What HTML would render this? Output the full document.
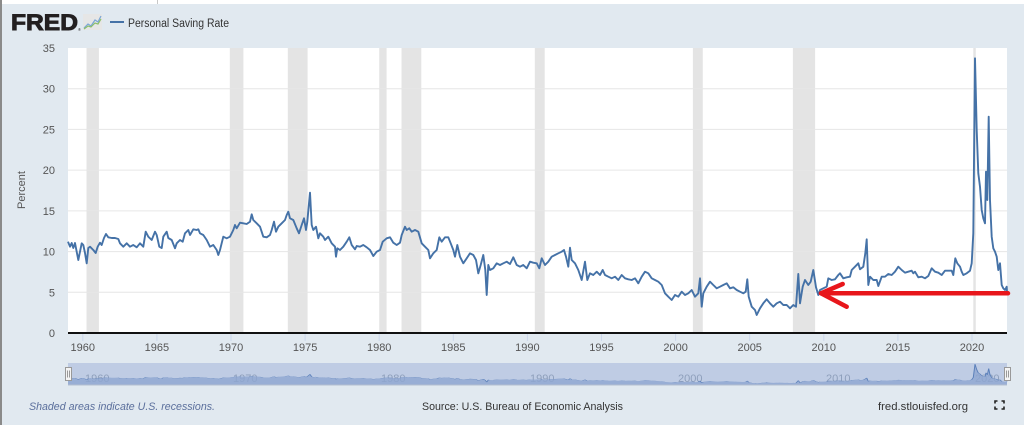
<!DOCTYPE html>
<html>
<head>
<meta charset="utf-8">
<style>
  html,body{margin:0;padding:0;background:#e1e9f0;}
  svg{display:block;}
  text{font-family:"Liberation Sans",sans-serif;}
</style>
</head>
<body>
<svg width="1024" height="425" viewBox="0 0 1024 425" xmlns="http://www.w3.org/2000/svg">
  <defs>
    <polyline id="series" points="68,241.7 70,246.7 71.7,243 73.3,248 75,243 78.3,260 80,251.7 81.7,243.3 83.3,245 85,253 86.7,263.3 88.3,248 90,246.7 93.3,250 95.7,253 97.7,246.7 100,242.7 101.7,245 104,238 106,234 108.3,237.3 111.7,238 115,238 118.3,239 120,243.3 123.3,246.7 126.7,243.3 130,246.7 133.3,245 136.7,247.3 140,243.3 143.3,246.7 145.7,231.7 148.3,236.7 151.7,240 155,231.7 156.7,235 159.3,246.7 161.7,248 163.3,236.7 166.7,231.7 168.3,238 171.7,240 175,248.3 176.7,243.3 180,240 182.7,241.7 185,233.3 188.3,230 190,235 193.3,229.3 196.7,230 198.3,229.3 200,233.3 203.3,235 206.7,240 210,246.7 213.3,245 216.7,250 218.3,255 220,250 223.3,236.7 226.7,238.3 230,236.7 233.3,230 235,225 236.7,228.3 240,222.7 243.3,223.3 246.7,224 250,221.7 251.7,214.3 253.3,220 256.7,223.3 260,226.7 263.3,236.7 266.7,237.3 270,235 271.7,230 274,221.7 276,231.7 278.3,226.7 281.7,223.3 285,220 286.7,215 288.3,211.7 290,218.3 293.3,220 296.7,228.3 299,233.3 301.7,225 304,218.3 306,230 307.3,221.7 310,192.7 311.7,225 313.3,230 316,226.7 318.3,238.3 320,233.3 323.3,236.7 325,240 328.3,236.7 331.7,243.3 335,246.7 336,256.7 337.3,248.3 340,250 343.3,246.7 346.7,241.7 349.3,237.3 351.7,245 355,249.3 356.7,246 360,246.7 363.3,245 366.7,247.3 370,250 373.3,256 376.7,251.7 380,250 382.7,241.7 386.7,238.3 390,237.3 393.3,242.7 396.7,245 400,242.7 401.7,235 405,226.7 406.7,230 409.3,228.3 411.7,231.7 415,230 418.3,231.7 421.7,243.3 425,246.7 428.3,250 430,258.3 433.3,253.3 436.7,250 439.3,237.3 441.7,241.7 445,237.3 448.3,237.3 450.7,243.3 453.3,250 455,256.7 457.3,245 460,256.7 463.3,263.3 466.7,258.3 470,253.3 473.3,255 476,260 478.3,273.3 480.7,265 483.3,255 485.3,270 486.7,295 488.3,265 490,270 493.3,268.3 496.7,263.3 500,265 503.3,263.3 506.7,261.7 510,264 513.3,257.3 516.7,265 520,266.7 523.3,265 526.7,268.3 530,261.7 533.3,262.7 536.7,263.3 539.3,268.3 541.7,258.3 545,265 548.3,261.7 551.7,256.7 555,255 558.3,253.3 561.7,251.7 564,250 566,256.7 568.3,266.7 570,247.7 571.7,260 575,263.3 578.3,270 581.7,280 585,261.7 587.3,280 590,273.3 593.3,275 596.7,271.7 600,275 602.7,270 605,275 608.3,276.7 611.7,278.3 615,276.7 618.3,280 621.7,275 625,278.3 628.3,279.3 631.7,280 635,278.3 638.3,283.3 641.7,276.7 645,271.7 648.3,273.3 651.7,278.3 655,280 658.3,281.7 661.7,285 665,293.3 668.3,296.7 671.7,300 675,295 678.3,296.7 681.7,291.7 685,295 688.3,293.3 691.7,290 695,296.7 698.3,293.3 700,278.3 701.7,306.7 703.3,293.3 706.7,286.7 710,281.7 713.3,285 716.7,288.3 720,286.7 723.3,285 726.7,283.3 730,288.3 733.3,287.3 736.7,290 740,291.7 743.3,293.3 745.7,291.7 747.3,279.3 748.7,296.7 751.7,306.7 755,310 756.7,315 760,308.3 763.3,303.3 766.7,299.3 770,303.3 773.3,306.7 776.7,303.3 780,301.7 783.3,305 786.7,305 790,308.3 793.3,305 796,306.7 798.3,274 800,303.3 802.7,286.7 805,280 808.3,285 810.7,281.7 813.3,270 816,287.3 818.3,295 820,290 823.3,288.3 826.7,286.7 828.3,278.3 831.7,280 835,279.3 838.3,275 840,273.3 843.3,278.3 846.7,277.3 850,276.7 851.7,270 855,266.7 858.3,263.3 860,269.3 863.3,266.7 865.3,253.3 866.7,239.3 868.3,285 870,276.7 873.3,280 876.7,280 878.3,286 881.7,276.7 885,276.7 888.3,274 891.7,275 895,271.7 898.3,266.7 901.7,270 905,272.7 908.3,271.7 911.7,270.7 913.3,273.3 915,271.7 918.3,277.3 921.7,276.7 925,278.3 928.3,276 931.7,268.3 935,271.7 938.3,272.7 941.7,275 945,270.7 948.3,270.7 951.7,270.7 953.3,275 955.3,258.3 957.3,263.3 960,266.7 961.7,271.7 963.3,275 966.7,273.3 970,270.7 971.7,263.3 973.3,233.3 975,58.3 976.7,130 978.3,173.3 980,186.7 981.7,210 983.3,218.3 985,223.3 986,171.7 987.3,200 988.7,116.7 990,200 991.7,236.7 993.3,248.3 995,251.7 996.7,256.7 998.3,270 1000,263.3 1001.7,285 1003.3,288.3 1005,290 1006.7,286.7 1007,291.7"/>
  </defs>

  <!-- background -->
  <rect x="0" y="0" width="1024" height="425" fill="#e1e9f0"/>
  <rect x="0" y="0" width="1024" height="4" fill="#ffffff"/>
  <rect x="157" y="0" width="1" height="4" fill="#c8c8c8"/>
  <rect x="0" y="0" width="2" height="425" fill="#8a8a8a"/>

  <!-- header -->
  <text x="11" y="30" font-size="22" font-weight="bold" fill="#231f20" stroke="#231f20" stroke-width="0.9" textLength="67" lengthAdjust="spacingAndGlyphs">FRED</text>
  <text x="78" y="31" font-size="4" fill="#231f20">®</text>
  <rect x="83" y="14" width="19" height="16" fill="#e6e6e6"/>
  <polyline points="84,28 88,24 91,26 95,20 98,22 101,16" fill="none" stroke="#7aa6d6" stroke-width="1.2"/>
  <polyline points="84,29 88,26 91,27 95,23 98,24 101,19" fill="none" stroke="#8bbf6a" stroke-width="1.2"/>
  <rect x="110" y="21" width="14" height="2" fill="#4572a7"/>
  <text x="128" y="27" font-size="11.5" fill="#333" textLength="101" lengthAdjust="spacingAndGlyphs">Personal Saving Rate</text>

  <!-- plot area -->
  <rect x="68" y="48" width="939" height="285" fill="#ffffff"/>

  <!-- recessions -->
  <g fill="#e4e4e4">
    <rect x="86.5" y="48" width="12.4" height="285"/>
    <rect x="229.8" y="48" width="13.6" height="285"/>
    <rect x="287.8" y="48" width="19.8" height="285"/>
    <rect x="379.2" y="48" width="7.4" height="285"/>
    <rect x="401.5" y="48" width="19.8" height="285"/>
    <rect x="534.8" y="48" width="9.9" height="285"/>
    <rect x="692.9" y="48" width="9.9" height="285"/>
    <rect x="792.9" y="48" width="22.2" height="285"/>
    <rect x="973.3" y="48" width="2.5" height="285"/>
  </g>

  <!-- grid -->
  <g stroke="#e6e6e6" stroke-width="1">
    <line x1="68" y1="292.3" x2="1007" y2="292.3"/>
    <line x1="68" y1="251.6" x2="1007" y2="251.6"/>
    <line x1="68" y1="210.9" x2="1007" y2="210.9"/>
    <line x1="68" y1="170.1" x2="1007" y2="170.1"/>
    <line x1="68" y1="129.4" x2="1007" y2="129.4"/>
    <line x1="68" y1="88.7" x2="1007" y2="88.7"/>
  </g>

  <!-- y labels -->
  <g font-size="11" fill="#555" text-anchor="end">
    <text x="55" y="52">35</text>
    <text x="55" y="92.7">30</text>
    <text x="55" y="133.4">25</text>
    <text x="55" y="174.1">20</text>
    <text x="55" y="214.9">15</text>
    <text x="55" y="255.6">10</text>
    <text x="55" y="296.3">5</text>
    <text x="55" y="337">0</text>
  </g>
  <text x="0" y="0" font-size="11" fill="#555" text-anchor="middle" transform="translate(25,190) rotate(-90)">Percent</text>

  <!-- series -->
  <use href="#series" fill="none" stroke="#4572a7" stroke-width="1.9" stroke-linejoin="round"/>

  <!-- x axis -->
  <rect x="68" y="332" width="939" height="2" fill="#111"/>
  <g stroke="#ccd6eb" stroke-width="1">
    <line x1="82.8" y1="334" x2="82.8" y2="341"/>
    <line x1="156.9" y1="334" x2="156.9" y2="341"/>
    <line x1="231" y1="334" x2="231" y2="341"/>
    <line x1="305.1" y1="334" x2="305.1" y2="341"/>
    <line x1="379.2" y1="334" x2="379.2" y2="341"/>
    <line x1="453.3" y1="334" x2="453.3" y2="341"/>
    <line x1="527.4" y1="334" x2="527.4" y2="341"/>
    <line x1="601.5" y1="334" x2="601.5" y2="341"/>
    <line x1="675.6" y1="334" x2="675.6" y2="341"/>
    <line x1="749.7" y1="334" x2="749.7" y2="341"/>
    <line x1="823.8" y1="334" x2="823.8" y2="341"/>
    <line x1="897.9" y1="334" x2="897.9" y2="341"/>
    <line x1="972" y1="334" x2="972" y2="341"/>
  </g>
  <g font-size="11" fill="#555" text-anchor="middle">
    <text x="82.8" y="351">1960</text>
    <text x="156.9" y="351">1965</text>
    <text x="231" y="351">1970</text>
    <text x="305.1" y="351">1975</text>
    <text x="379.2" y="351">1980</text>
    <text x="453.3" y="351">1985</text>
    <text x="527.4" y="351">1990</text>
    <text x="601.5" y="351">1995</text>
    <text x="675.6" y="351">2000</text>
    <text x="749.7" y="351">2005</text>
    <text x="823.8" y="351">2010</text>
    <text x="897.9" y="351">2015</text>
    <text x="972" y="351">2020</text>
  </g>

  <!-- red arrow -->
  <g stroke="#e8161b" stroke-width="4.5" stroke-linecap="round" fill="none">
    <line x1="822" y1="293.3" x2="1008" y2="293.3"/>
    <line x1="821" y1="293.3" x2="842.7" y2="284"/>
    <line x1="821" y1="293.3" x2="846.7" y2="306.7"/>
  </g>

  <!-- navigator -->
  <rect x="68" y="363" width="939" height="22" fill="#bfcce4"/>
  <g font-size="11" fill="#8e9fbb">
    <text x="85" y="382">1960</text>
    <text x="233" y="382">1970</text>
    <text x="381" y="382">1980</text>
    <text x="530" y="382">1990</text>
    <text x="678" y="382">2000</text>
    <text x="826" y="382">2010</text>
    <text x="975" y="382">2020</text>
  </g>
  <g transform="translate(0,359.63) scale(1,0.0762)">
    <polygon fill="#8ea6d1" fill-opacity="0.8" stroke="none" points="68,333 68,241.7 70,246.7 71.7,243 73.3,248 75,243 78.3,260 80,251.7 81.7,243.3 83.3,245 85,253 86.7,263.3 88.3,248 90,246.7 93.3,250 95.7,253 97.7,246.7 100,242.7 101.7,245 104,238 106,234 108.3,237.3 111.7,238 115,238 118.3,239 120,243.3 123.3,246.7 126.7,243.3 130,246.7 133.3,245 136.7,247.3 140,243.3 143.3,246.7 145.7,231.7 148.3,236.7 151.7,240 155,231.7 156.7,235 159.3,246.7 161.7,248 163.3,236.7 166.7,231.7 168.3,238 171.7,240 175,248.3 176.7,243.3 180,240 182.7,241.7 185,233.3 188.3,230 190,235 193.3,229.3 196.7,230 198.3,229.3 200,233.3 203.3,235 206.7,240 210,246.7 213.3,245 216.7,250 218.3,255 220,250 223.3,236.7 226.7,238.3 230,236.7 233.3,230 235,225 236.7,228.3 240,222.7 243.3,223.3 246.7,224 250,221.7 251.7,214.3 253.3,220 256.7,223.3 260,226.7 263.3,236.7 266.7,237.3 270,235 271.7,230 274,221.7 276,231.7 278.3,226.7 281.7,223.3 285,220 286.7,215 288.3,211.7 290,218.3 293.3,220 296.7,228.3 299,233.3 301.7,225 304,218.3 306,230 307.3,221.7 310,192.7 311.7,225 313.3,230 316,226.7 318.3,238.3 320,233.3 323.3,236.7 325,240 328.3,236.7 331.7,243.3 335,246.7 336,256.7 337.3,248.3 340,250 343.3,246.7 346.7,241.7 349.3,237.3 351.7,245 355,249.3 356.7,246 360,246.7 363.3,245 366.7,247.3 370,250 373.3,256 376.7,251.7 380,250 382.7,241.7 386.7,238.3 390,237.3 393.3,242.7 396.7,245 400,242.7 401.7,235 405,226.7 406.7,230 409.3,228.3 411.7,231.7 415,230 418.3,231.7 421.7,243.3 425,246.7 428.3,250 430,258.3 433.3,253.3 436.7,250 439.3,237.3 441.7,241.7 445,237.3 448.3,237.3 450.7,243.3 453.3,250 455,256.7 457.3,245 460,256.7 463.3,263.3 466.7,258.3 470,253.3 473.3,255 476,260 478.3,273.3 480.7,265 483.3,255 485.3,270 486.7,295 488.3,265 490,270 493.3,268.3 496.7,263.3 500,265 503.3,263.3 506.7,261.7 510,264 513.3,257.3 516.7,265 520,266.7 523.3,265 526.7,268.3 530,261.7 533.3,262.7 536.7,263.3 539.3,268.3 541.7,258.3 545,265 548.3,261.7 551.7,256.7 555,255 558.3,253.3 561.7,251.7 564,250 566,256.7 568.3,266.7 570,247.7 571.7,260 575,263.3 578.3,270 581.7,280 585,261.7 587.3,280 590,273.3 593.3,275 596.7,271.7 600,275 602.7,270 605,275 608.3,276.7 611.7,278.3 615,276.7 618.3,280 621.7,275 625,278.3 628.3,279.3 631.7,280 635,278.3 638.3,283.3 641.7,276.7 645,271.7 648.3,273.3 651.7,278.3 655,280 658.3,281.7 661.7,285 665,293.3 668.3,296.7 671.7,300 675,295 678.3,296.7 681.7,291.7 685,295 688.3,293.3 691.7,290 695,296.7 698.3,293.3 700,278.3 701.7,306.7 703.3,293.3 706.7,286.7 710,281.7 713.3,285 716.7,288.3 720,286.7 723.3,285 726.7,283.3 730,288.3 733.3,287.3 736.7,290 740,291.7 743.3,293.3 745.7,291.7 747.3,279.3 748.7,296.7 751.7,306.7 755,310 756.7,315 760,308.3 763.3,303.3 766.7,299.3 770,303.3 773.3,306.7 776.7,303.3 780,301.7 783.3,305 786.7,305 790,308.3 793.3,305 796,306.7 798.3,274 800,303.3 802.7,286.7 805,280 808.3,285 810.7,281.7 813.3,270 816,287.3 818.3,295 820,290 823.3,288.3 826.7,286.7 828.3,278.3 831.7,280 835,279.3 838.3,275 840,273.3 843.3,278.3 846.7,277.3 850,276.7 851.7,270 855,266.7 858.3,263.3 860,269.3 863.3,266.7 865.3,253.3 866.7,239.3 868.3,285 870,276.7 873.3,280 876.7,280 878.3,286 881.7,276.7 885,276.7 888.3,274 891.7,275 895,271.7 898.3,266.7 901.7,270 905,272.7 908.3,271.7 911.7,270.7 913.3,273.3 915,271.7 918.3,277.3 921.7,276.7 925,278.3 928.3,276 931.7,268.3 935,271.7 938.3,272.7 941.7,275 945,270.7 948.3,270.7 951.7,270.7 953.3,275 955.3,258.3 957.3,263.3 960,266.7 961.7,271.7 963.3,275 966.7,273.3 970,270.7 971.7,263.3 973.3,233.3 975,58.3 976.7,130 978.3,173.3 980,186.7 981.7,210 983.3,218.3 985,223.3 986,171.7 987.3,200 988.7,116.7 990,200 991.7,236.7 993.3,248.3 995,251.7 996.7,256.7 998.3,270 1000,263.3 1001.7,285 1003.3,288.3 1005,290 1006.7,286.7 1007,291.7 1007,333"/>
    <use href="#series" fill="none" stroke="#5a7fb9" stroke-width="1" vector-effect="non-scaling-stroke"/>
  </g>
  <line x1="68" y1="385" x2="1007" y2="385" stroke="#b3bfd0" stroke-width="1"/>
  <!-- handles -->
  <g fill="#f4f4f4" stroke="#999" stroke-width="1">
    <rect x="65.5" y="367.5" width="6" height="13"/>
    <rect x="1004.5" y="367.5" width="6" height="13"/>
  </g>
  <g stroke="#999" stroke-width="1">
    <line x1="67.5" y1="370.5" x2="67.5" y2="377.5"/>
    <line x1="69.5" y1="370.5" x2="69.5" y2="377.5"/>
    <line x1="1006.5" y1="370.5" x2="1006.5" y2="377.5"/>
    <line x1="1008.5" y1="370.5" x2="1008.5" y2="377.5"/>
  </g>

  <!-- footer -->
  <text x="29" y="410" font-size="11" font-style="italic" fill="#5b6f9c" textLength="186" lengthAdjust="spacingAndGlyphs">Shaded areas indicate U.S. recessions.</text>
  <text x="422" y="410" font-size="11" fill="#333" textLength="201" lengthAdjust="spacingAndGlyphs">Source: U.S. Bureau of Economic Analysis</text>
  <text x="878" y="410" font-size="11" fill="#333" textLength="90" lengthAdjust="spacingAndGlyphs">fred.stlouisfed.org</text>
  <g stroke="#222" stroke-width="1.6" fill="none">
    <polyline points="995,403.5 995,401 997.5,401"/>
    <polyline points="1001.5,401 1004,401 1004,403.5"/>
    <polyline points="995,406.5 995,409 997.5,409"/>
    <polyline points="1001.5,409 1004,409 1004,406.5"/>
  </g>
</svg>
</body>
</html>
